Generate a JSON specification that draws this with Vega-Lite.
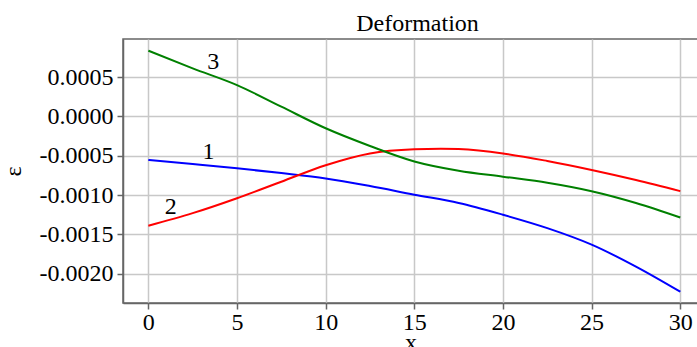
{
  "$schema": "https://vega.github.io/schema/vega-lite/v6.json",
  "width": 575,
  "height": 264,
  "autosize": "none",
  "padding": {"left": 123, "top": 39, "right": 0, "bottom": 44},
  "background": "white",
  "title": {"text": "Deformation", "font": "Liberation Serif", "fontSize": 24, "fontWeight": "normal", "color": "black", "anchor": "middle", "offset": 3, "dx": 7},
  "config": {
    "view": {"stroke": "#666666", "strokeWidth": 1.5},
    "axis": {
      "grid": true, "gridColor": "#c8c8c8", "gridWidth": 1.5,
      "domainColor": "#666666", "domainWidth": 1.5,
      "tickColor": "#666666", "tickSize": 6, "tickWidth": 1.5,
      "labelFont": "Liberation Serif", "labelFontSize": 24, "labelColor": "black",
      "titleFont": "Liberation Serif", "titleFontSize": 24, "titleFontWeight": "normal", "titleColor": "black"
    }
  },
  "datasets": {
    "curves": [
      {"x": 0, "eps": -0.000553, "curve": "1"},
      {"x": 2.5, "eps": -0.000605, "curve": "1"},
      {"x": 5, "eps": -0.000659, "curve": "1"},
      {"x": 7.5, "eps": -0.00072, "curve": "1"},
      {"x": 10, "eps": -0.000788, "curve": "1"},
      {"x": 12.5, "eps": -0.000885, "curve": "1"},
      {"x": 15, "eps": -0.000995, "curve": "1"},
      {"x": 17.5, "eps": -0.0011, "curve": "1"},
      {"x": 20, "eps": -0.00125, "curve": "1"},
      {"x": 22.5, "eps": -0.00142, "curve": "1"},
      {"x": 25, "eps": -0.00163, "curve": "1"},
      {"x": 27.5, "eps": -0.00191, "curve": "1"},
      {"x": 30, "eps": -0.00223, "curve": "1"},
      {"x": 0, "eps": -0.00139, "curve": "2"},
      {"x": 2.5, "eps": -0.00123, "curve": "2"},
      {"x": 5, "eps": -0.00104, "curve": "2"},
      {"x": 7.5, "eps": -0.00083, "curve": "2"},
      {"x": 10, "eps": -0.00062, "curve": "2"},
      {"x": 12.5, "eps": -0.00047, "curve": "2"},
      {"x": 15, "eps": -0.000417, "curve": "2"},
      {"x": 16.5, "eps": -0.00041, "curve": "2"},
      {"x": 17.5, "eps": -0.000415, "curve": "2"},
      {"x": 20, "eps": -0.00047, "curve": "2"},
      {"x": 22.5, "eps": -0.000566, "curve": "2"},
      {"x": 25, "eps": -0.00068, "curve": "2"},
      {"x": 27.5, "eps": -0.000808, "curve": "2"},
      {"x": 30, "eps": -0.00095, "curve": "2"},
      {"x": 0, "eps": 0.000837, "curve": "3"},
      {"x": 2.5, "eps": 0.000613, "curve": "3"},
      {"x": 5, "eps": 0.0004, "curve": "3"},
      {"x": 7.5, "eps": 0.000125, "curve": "3"},
      {"x": 10, "eps": -0.00015, "curve": "3"},
      {"x": 12.5, "eps": -0.000375, "curve": "3"},
      {"x": 15, "eps": -0.000572, "curve": "3"},
      {"x": 17.5, "eps": -0.00069, "curve": "3"},
      {"x": 20, "eps": -0.000766, "curve": "3"},
      {"x": 22.5, "eps": -0.000842, "curve": "3"},
      {"x": 25, "eps": -0.00095, "curve": "3"},
      {"x": 27.5, "eps": -0.0011, "curve": "3"},
      {"x": 30, "eps": -0.001285, "curve": "3"}
    ],
    "labels": [
      {"x": 3.39, "eps": -0.000448, "label": "1"},
      {"x": 1.27, "eps": -0.00115, "label": "2"},
      {"x": 3.66, "eps": 0.000697, "label": "3"}
    ]
  },
  "layer": [
    {
      "data": {"name": "curves"},
      "mark": {"type": "line", "interpolate": "monotone", "strokeWidth": 2},
      "encoding": {
        "x": {"field": "x", "type": "quantitative",
          "scale": {"domain": [-1.43, 31.0], "nice": false, "zero": false},
          "axis": {"values": [0, 5, 10, 15, 20, 25, 30], "title": "x", "labelPadding": 1, "titlePadding": -4}},
        "y": {"field": "eps", "type": "quantitative",
          "scale": {"domain": [-0.002373, 0.000986], "nice": false, "zero": false},
          "axis": {"values": [-0.002, -0.0015, -0.001, -0.0005, 0, 0.0005], "title": "ε", "labelExpr": "replace(format(datum.value, '.4f'), '\u2212', '-')", "labelPadding": 4, "titlePadding": 14}},
        "color": {"field": "curve", "type": "nominal",
          "scale": {"domain": ["1", "2", "3"], "range": ["#0000ff", "#ff0000", "#008000"]},
          "legend": null}
      }
    },
    {
      "data": {"name": "labels"},
      "mark": {"type": "text", "font": "Liberation Serif", "fontSize": 24, "color": "black", "align": "center", "baseline": "middle"},
      "encoding": {
        "x": {"field": "x", "type": "quantitative"},
        "y": {"field": "eps", "type": "quantitative"},
        "text": {"field": "label"}
      }
    }
  ]
}
